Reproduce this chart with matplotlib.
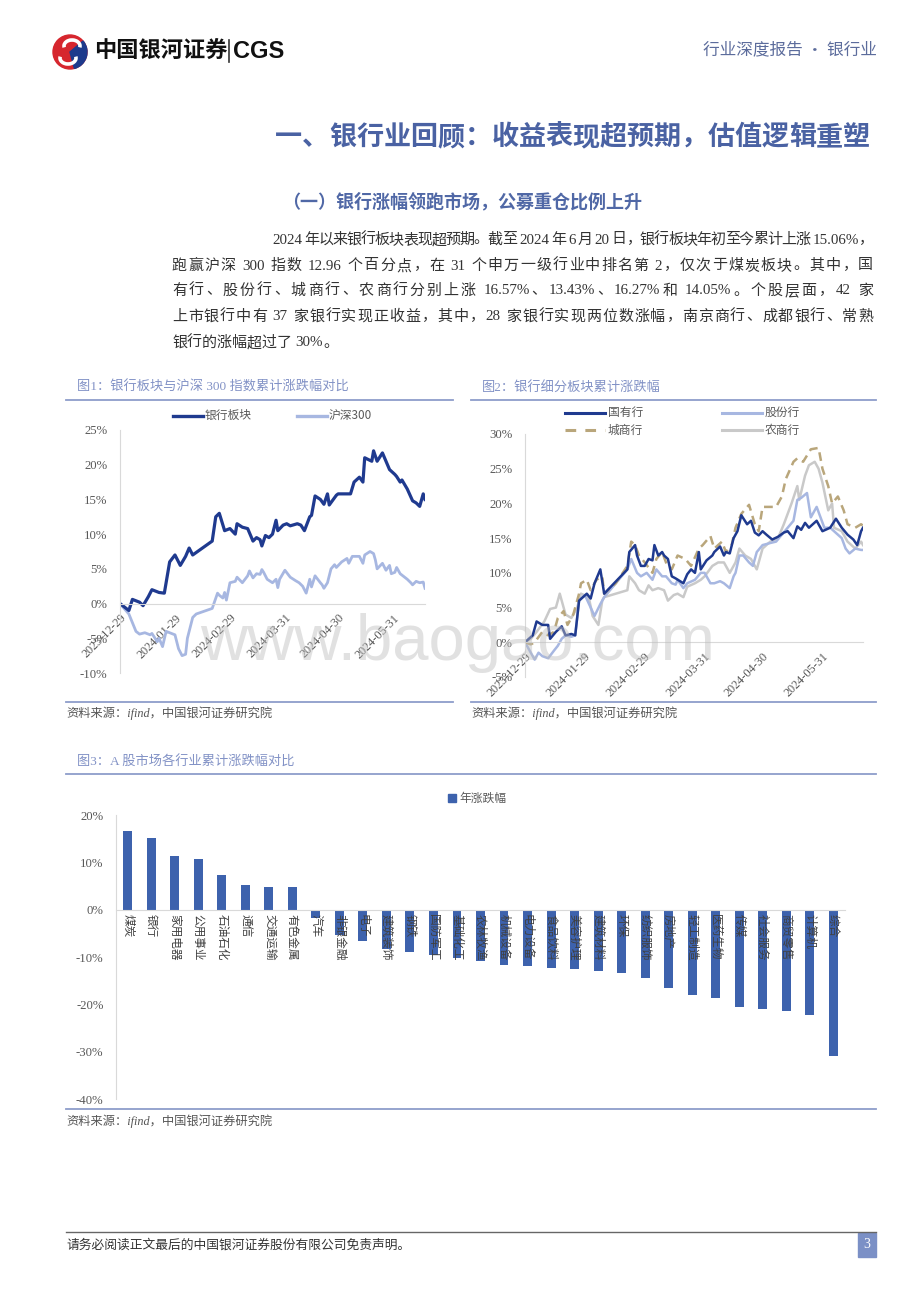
import re
import matplotlib
matplotlib.use('Agg')
import matplotlib.pyplot as plt
import pandas as pd
from matplotlib.lines import Line2D
from matplotlib.patches import Rectangle, Circle, Wedge, Arc

# ---------------- data ----------------
base_date = '2023-12-29'
tick_dates = ['2023-12-29', '2024-01-29', '2024-02-29', '2024-03-31', '2024-04-30', '2024-05-31']

# Fig1: days after 2023-12-29 and cumulative change (%)
bank_days = [0, 5, 7, 11, 13, 16, 18, 22, 25, 28, 31, 34, 37, 39, 41, 52, 54, 56, 59, 62, 65, 66, 69, 72,
             75, 77, 79, 80, 82, 84, 86, 88, 89, 92, 94, 96, 100, 102, 104, 107, 108, 110, 113, 115, 117,
             118, 122, 123, 130, 132, 135, 137, 138, 142, 143, 145, 148, 152, 155, 156, 158, 159, 162,
             165, 167, 169, 171, 172]
bank_vals = [0, -1.0, 0.6, 0.2, -0.3, 1.0, 2.0, 1.6, 1.5, 6.0, 7.0, 5.5, 6.8, 8.0, 7.0, 9.0, 12.5, 13.0,
             10.5, 10.8, 10.0, 11.5, 11.0, 10.8, 9.0, 9.5, 9.2, 8.3, 9.8, 9.5, 10.0, 12.0, 10.5, 11.3,
             11.5, 11.2, 11.5, 11.3, 10.5, 12.5, 12.7, 15.5, 15.0, 14.3, 15.8, 14.2, 15.6, 15.8, 15.8,
             17.5, 18.2, 17.5, 21.0, 20.5, 22.0, 20.5, 21.7, 19.3, 18.6, 18.3, 17.5, 17.8, 16.5, 14.8,
             14.5, 14.0, 15.8, 15.0]
hs300_days = [0, 5, 9, 11, 14, 17, 18, 21, 22, 24, 26, 31, 33, 35, 37, 38, 41, 43, 52, 55, 56, 58, 59,
              60, 62, 65, 66, 69, 72, 73, 75, 77, 79, 80, 81, 83, 86, 88, 89, 90, 93, 96, 99, 101, 103,
              105, 107, 108, 110, 113, 114, 115, 117, 119, 121, 122, 125, 128, 129, 131, 135, 137, 138,
              141, 143, 144, 145, 148, 150, 152, 153, 155, 156, 158, 162, 164, 165, 167, 169, 171, 172]
hs300_vals = [0, -1.5, -4.0, -4.4, -4.2, -4.5, -4.3, -5.5, -5.0, -6.2, -4.0, -4.5, -6.5, -7.5, -7.3,
              -5.0, -2.0, -1.5, -0.7, 1.5, 1.2, 0.8, 1.6, 0.5, 3.0, 3.2, 3.8, 3.0, 4.0, 4.7, 3.7, 4.3,
              4.2, 4.9, 4.5, 3.5, 3.0, 3.5, 2.3, 3.5, 4.8, 3.8, 3.3, 3.0, 2.5, 1.5, 3.5, 2.4, 4.0, 3.0,
              2.7, 2.2, 3.0, 5.0, 5.6, 5.2, 6.0, 6.5, 5.8, 6.8, 6.8, 5.8, 7.0, 7.5, 7.2, 6.3, 5.0, 5.8,
              4.8, 5.5, 4.3, 4.5, 5.2, 4.3, 3.5, 3.0, 2.7, 3.2, 3.0, 3.1, 2.2]

# Fig2
soe_days = [0, 4, 6, 9, 12, 13, 16, 19, 21, 24, 26, 28, 32, 34, 36, 39, 41, 53, 54, 57, 58, 60, 62, 64,
            66, 67, 69, 71, 72, 74, 76, 78, 82, 84, 86, 88, 90, 91, 94, 97, 98, 101, 103, 104, 106, 108,
            110, 112, 115, 117, 119, 121, 123, 125, 128, 131, 134, 136, 139, 141, 143, 145, 147, 151,
            154, 158, 161, 164, 167, 170, 172, 174, 175]
soe_vals = [0, 1.0, 3.0, 2.5, 2.5, 0.5, 1.5, 2.3, 1.0, 1.2, 1.0, 6.0, 7.0, 6.3, 8.5, 10.5, 7.0, 10.5,
            13.0, 14.0, 12.5, 11.0, 11.0, 12.0, 11.8, 14.0, 12.5, 13.0, 12.5, 12.0, 9.5, 9.2, 8.5, 9.8,
            10.5, 10.0, 13.0, 10.5, 11.8, 12.5, 13.0, 13.8, 12.5, 13.0, 12.8, 15.0, 16.0, 18.3, 17.0,
            17.5, 15.8, 15.4, 16.0, 15.5, 14.8, 15.2, 15.8, 16.0, 15.0, 16.7, 16.2, 17.2, 16.5, 17.5,
            16.0, 16.5, 17.8, 16.5, 15.5, 14.8, 14.0, 16.0, 16.5]
city_days = [0, 3, 5, 9, 12, 15, 17, 20, 22, 25, 28, 29, 32, 34, 37, 40, 41, 47, 53, 55, 57, 59, 62, 66,
             68, 71, 73, 76, 79, 83, 86, 90, 92, 96, 98, 102, 104, 107, 109, 112, 116, 119, 121, 123,
             126, 130, 133, 135, 139, 141, 144, 148, 152, 154, 157, 159, 162, 165, 167, 171, 174, 175]
city_vals = [0, -0.3, 0, 1.5, 1.0, 1.5, 3.5, 4.5, 2.5, 4.0, 7.0, 8.5, 9.0, 7.5, 9.0, 9.5, 7.0, 8.5, 11.0,
             14.5, 14.0, 12.5, 11.5, 10.0, 12.0, 13.0, 11.5, 10.5, 12.5, 12.0, 11.0, 13.5, 14.0, 15.3,
             13.5, 14.5, 13.0, 14.0, 16.5, 18.5, 19.8, 17.0, 16.0, 19.5, 19.5, 19.5, 21.0, 23.5, 26.0,
             26.5, 26.0, 27.8, 28.0, 25.0, 22.5, 20.0, 21.0, 19.0, 17.0, 16.5, 17.0, 16.8]
jsb_days = [0, 3, 5, 7, 9, 12, 15, 17, 19, 21, 24, 26, 28, 31, 34, 36, 39, 41, 53, 55, 58, 60, 63, 66,
            68, 71, 73, 76, 78, 79, 82, 84, 88, 91, 93, 96, 98, 101, 103, 106, 108, 109, 111, 113, 116,
            118, 120, 123, 127, 130, 133, 136, 139, 141, 143, 146, 148, 151, 153, 155, 158, 160, 164,
            166, 168, 171, 174, 175]
jsb_vals = [0, -1.5, -2.5, -1.5, -2.0, -2.3, -1.2, -0.5, 0.5, 1.0, 0.8, 1.0, 6.0, 6.8, 5.0, 3.8, 5.5,
            6.5, 10.5, 12.0, 10.0, 9.5, 10.0, 9.0, 10.5, 9.5, 9.5, 8.5, 8.3, 9.0, 7.8, 8.5, 9.0, 10.0,
            10.0, 8.5, 8.5, 8.8, 8.5, 7.8, 9.5, 10.0, 12.5, 12.5, 11.5, 11.0, 13.0, 14.0, 14.3, 14.5,
            15.5, 16.5, 17.5, 20.5, 20.8, 21.5, 18.0, 19.5, 18.0, 16.5, 16.5, 16.0, 15.0, 13.5, 12.8,
            13.5, 13.3, 13.3]
rural_days = [0, 3, 6, 10, 13, 16, 18, 21, 24, 27, 29, 33, 35, 38, 40, 41, 53, 54, 57, 59, 62, 64, 66,
              69, 72, 74, 77, 79, 82, 84, 88, 91, 93, 97, 100, 103, 106, 109, 111, 114, 117, 120, 123,
              127, 131, 134, 138, 141, 142, 145, 147, 150, 152, 154, 157, 159, 160, 164, 167, 171, 174,
              175]
rural_vals = [0, 0.5, 1.5, 3.0, 4.8, 5.0, 7.0, 4.0, 3.5, 5.0, 7.0, 6.5, 3.8, 2.5, 6.0, 6.5, 7.5, 9.5,
              8.5, 7.5, 7.0, 8.2, 7.5, 7.8, 7.5, 6.0, 6.8, 7.0, 6.5, 8.0, 8.5, 9.0, 9.5, 11.0, 11.5,
              11.5, 10.0, 11.5, 13.5, 12.5, 12.0, 10.5, 13.5, 14.5, 15.0, 17.0, 20.0, 22.5, 20.5, 24.0,
              25.5, 26.0, 25.0, 23.0, 19.0, 20.0, 16.5, 16.0, 14.5, 13.5, 14.5, 14.0]

# Fig3
ind_names = ['煤炭', '银行', '家用电器', '公用事业', '石油石化', '通信', '交通运输', '有色金属', '汽车',
             '非银金融', '电子', '建筑装饰', '钢铁', '国防军工', '基础化工', '农林牧渔', '机械设备',
             '电力设备', '食品饮料', '美容护理', '建筑材料', '环保', '纺织服饰', '房地产', '轻工制造',
             '医药生物', '传媒', '社会服务', '商贸零售', '计算机', '综合']
ind_vals = [16.6, 15.1, 11.4, 10.8, 7.4, 5.2, 4.8, 4.7, -1.7, -5.3, -6.7, -8.4, -8.9, -9.6, -10.3,
            -10.9, -11.6, -11.9, -12.4, -12.6, -12.9, -13.4, -14.5, -16.6, -18.0, -18.6, -20.6, -21.0,
            -21.4, -22.2, -30.9]

para_lines = [
    '2024 年以来银行板块表现超预期。截至 2024 年 6 月 20 日，银行板块年初至今累计上涨 15.06%，',
    '跑赢沪深 300 指数 12.96 个百分点，在 31 个申万一级行业中排名第 2，仅次于煤炭板块。其中，国',
    '有行、股份行、城商行、农商行分别上涨 16.57%、13.43%、16.27%和 14.05%。个股层面，42 家',
    '上市银行中有 37 家银行实现正收益，其中，28 家银行实现两位数涨幅，南京商行、成都银行、常熟',
    '银行的涨幅超过了 30%。',
]

# ---------------- style ----------------
W, H = 920, 1302
CJK = ['Noto Sans CJK SC', 'DejaVu Sans']
SERIF = ['Liberation Serif', 'Noto Sans CJK SC', 'DejaVu Sans']
plt.rcParams['font.family'] = CJK

NAVY = '#1f3a8f'
LIGHTBLUE = '#a7b7e1'
TAN = '#b9a67b'
GRAY = '#c9c9c9'
BAR = '#3d62ad'
CAP = '#8292c6'
RULE = '#8e9dca'
AXC = '#d9d9d9'
TXT = '#595959'

fig = plt.figure(figsize=(9.2, 13.02), dpi=100)
renderer = fig.canvas.get_renderer()


def fx(x):
    return x / W


def fy(y):
    return 1 - y / H


def ftext(x, y, s, **kw):
    return fig.text(fx(x), fy(y), s, **kw)


def fline(xs, ys, **kw):
    fig.add_artist(Line2D([fx(v) for v in xs], [fy(v) for v in ys], transform=fig.transFigure, **kw))


def justify(s, x0, x1, y, fs, color, fam, full=True, **kw):
    toks = re.findall(r'[A-Za-z0-9.%]+| |.', s)
    arts, widths = [], []
    for t in toks:
        if t == ' ':
            arts.append(None)
            widths.append(fs * 100 / 72 * 0.25)
        else:
            a = fig.text(0, fy(y), t, fontsize=fs, color=color, family=fam, va='center', ha='left', **kw)
            widths.append(a.get_window_extent(renderer).width)
            arts.append(a)
    gap = (x1 - x0 - sum(widths)) / (len(toks) - 1) if full and len(toks) > 1 else 0
    x = x0
    for a, w in zip(arts, widths):
        if a is not None:
            a.set_x(fx(x))
        x += w + gap


# ---------------- header ----------------
logo = fig.add_axes([fx(51), fy(71), 38 / W, 38 / H])
logo.set_xlim(0, 38)
logo.set_ylim(0, 38)
logo.axis('off')
logo.add_patch(Circle((19, 19), 17, color='#d6262e'))
logo.add_patch(Wedge((19, 19), 17, -75, 40, color='#1d3a8c'))
logo.add_patch(Arc((21, 25), 16, 12, theta1=-10, theta2=190, color='white', lw=2.6))
logo.add_patch(Arc((17, 13), 16, 12, theta1=170, theta2=370, color='white', lw=2.6))

ftext(94, 51, '中国银河证券', fontsize=16, fontweight='bold', color='#111111', va='center', ha='left')
fline([229, 229], [40, 62], color='#333333', lw=1.2)
ftext(233, 51, 'CGS', fontsize=17, fontweight='bold', color='#111111', va='center', ha='left',
      family=['Liberation Sans', 'DejaVu Sans'])
ftext(877, 50, '行业深度报告 · 银行业', fontsize=12, color='#5c6c9c', va='center', ha='right')

justify('一、银行业回顾：收益表现超预期，估值逻辑重塑', 275, 870, 137, 19.5, '#4a62a3', CJK,
        fontweight='bold')
ftext(282, 202, '（一）银行涨幅领跑市场，公募重仓比例上升', fontsize=13, fontweight='bold',
      color='#5068a6', va='center', ha='left')

para_y = [240, 266, 291, 317, 343]
for i, (line, yy) in enumerate(zip(para_lines, para_y)):
    x0 = 272 if i == 0 else 172
    justify(line, x0, 873, yy, 10.8, '#333333', SERIF, full=(i < len(para_lines) - 1))

# ---------------- captions / rules ----------------
ftext(77, 387, '图1：银行板块与沪深 300 指数累计涨跌幅对比', fontsize=9.5, color=CAP, va='center', ha='left',
      family=SERIF)
ftext(482, 387, '图2：银行细分板块累计涨跌幅', fontsize=9.5, color=CAP, va='center', ha='left', family=SERIF)
fline([66, 453], [399.5, 399.5], color=RULE, lw=1.3)
fline([471, 876], [399.5, 399.5], color=RULE, lw=1.3)
fline([66, 453], [702, 702], color=RULE, lw=1.3)
fline([471, 876], [702, 702], color=RULE, lw=1.3)
ftext(66, 713.5, '资料来源：ifind，中国银河证券研究院', fontsize=8.8, color='#555555', va='center', ha='left',
      style='italic', family=SERIF)
ftext(471, 713.5, '资料来源：ifind，中国银河证券研究院', fontsize=8.8, color='#555555', va='center', ha='left',
      style='italic', family=SERIF)

ftext(77, 762, '图3：A 股市场各行业累计涨跌幅对比', fontsize=9.5, color=CAP, va='center', ha='left', family=SERIF)
fline([66, 876], [774, 774], color=RULE, lw=1.3)
fline([66, 876], [1109, 1109], color=RULE, lw=1.3)
ftext(66, 1121.5, '资料来源：ifind，中国银河证券研究院', fontsize=8.8, color='#555555', va='center', ha='left',
      style='italic', family=SERIF)

# footer
fline([66, 876], [1232, 1232], color='#666666', lw=1.0)
ftext(66, 1245, '请务必阅读正文最后的中国银河证券股份有限公司免责声明。', fontsize=9.2, color='#333333',
      va='center', ha='left', family=SERIF)
fig.add_artist(Rectangle((fx(858), fy(1257)), 18 / W, 24 / H, transform=fig.transFigure,
                         color='#7b90c6'))
ftext(867, 1245, '3', fontsize=10, color='white', va='center', ha='center', family=SERIF)

# ---------------- line charts ----------------
base = pd.Timestamp(base_date)
ticks = pd.to_datetime(tick_dates)


def to_dates(days):
    return base + pd.to_timedelta(days, unit='D')


def style_line_axes(ax, ymin, ymax, step, xmax_days):
    for s in ['top', 'right']:
        ax.spines[s].set_visible(False)
    ax.spines['left'].set_color(AXC)
    ax.spines['bottom'].set_color(AXC)
    ax.spines['bottom'].set_position(('data', 0))
    ax.set_xlim(base, base + pd.Timedelta(days=xmax_days))
    ax.set_ylim(ymin, ymax)
    ax.set_yticks(range(ymin, ymax + 1, step))
    ax.set_yticklabels([f'{v}%' for v in range(ymin, ymax + 1, step)], family=SERIF, fontsize=9.2,
                       color=TXT)
    ax.set_xticks(ticks)
    ax.set_xticklabels(tick_dates, family=SERIF, fontsize=8.8, color=TXT, rotation=45, ha='right',
                       va='top', rotation_mode='anchor')
    ax.tick_params(axis='both', length=0)
    ax.tick_params(axis='y', pad=9)
    ax.tick_params(axis='x', pad=6)
    ax.patch.set_alpha(0)


ax1 = fig.add_axes([fx(120), fy(673), (425 - 120) / W, (673 - 430) / H])
ax1.plot(to_dates(hs300_days), hs300_vals, color=LIGHTBLUE, lw=2.0, solid_joinstyle='round')
ax1.plot(to_dates(bank_days), bank_vals, color=NAVY, lw=2.3, solid_joinstyle='round')
style_line_axes(ax1, -10, 25, 5, 172)

fline([173, 203], [415.5, 415.5], color=NAVY, lw=2.4)
ftext(205, 415.5, '银行板块', fontsize=8.5, color=TXT, va='center', ha='left')
fline([297, 327], [415.5, 415.5], color=LIGHTBLUE, lw=2.4)
ftext(329, 415.5, '沪深300', fontsize=8.5, color=TXT, va='center', ha='left')

ax2 = fig.add_axes([fx(525), fy(677), (863 - 525) / W, (677 - 434) / H])
ax2.plot(to_dates(rural_days), rural_vals, color=GRAY, lw=1.8, solid_joinstyle='round')
ax2.plot(to_dates(jsb_days), jsb_vals, color=LIGHTBLUE, lw=1.8, solid_joinstyle='round')
ax2.plot(to_dates(city_days), city_vals, color=TAN, lw=1.8, dashes=(3.5, 2.2))
ax2.plot(to_dates(soe_days), soe_vals, color=NAVY, lw=1.8, solid_joinstyle='round')
style_line_axes(ax2, -5, 30, 5, 175)

fline([565, 605], [412.5, 412.5], color=NAVY, lw=2.2)
ftext(608, 412.5, '国有行', fontsize=8.5, color=TXT, va='center', ha='left')
fline([722, 762], [412.5, 412.5], color=LIGHTBLUE, lw=2.2)
ftext(765, 412.5, '股份行', fontsize=8.5, color=TXT, va='center', ha='left')
fig.add_artist(Line2D([fx(565), fx(605)], [fy(430), fy(430)], transform=fig.transFigure, color=TAN, lw=2.2,
                      dashes=(3.5, 3.0)))
ftext(608, 430, '城商行', fontsize=8.5, color=TXT, va='center', ha='left')
fline([722, 762], [430, 430], color=GRAY, lw=2.2)
ftext(765, 430, '农商行', fontsize=8.5, color=TXT, va='center', ha='left')

# ---------------- bar chart ----------------
ax3 = fig.add_axes([fx(116), fy(1099), (845 - 116) / W, (1099 - 815) / H])
for s in ['top', 'right']:
    ax3.spines[s].set_visible(False)
ax3.spines['left'].set_color(AXC)
ax3.spines['bottom'].set_color(AXC)
ax3.spines['bottom'].set_position(('data', 0))
ax3.spines['bottom'].set_zorder(3)
xs = list(range(len(ind_names)))
ax3.bar(xs, ind_vals, width=0.38, color=BAR, zorder=2)
ax3.set_xlim(-0.5, len(ind_names) - 0.5)
ax3.set_ylim(-40, 20)
yt = list(range(-40, 21, 10))
ax3.set_yticks(yt)
ax3.set_yticklabels([f'{v}%' for v in yt], family=SERIF, fontsize=9.2, color=TXT)
ax3.set_xticks([])
ax3.tick_params(axis='both', length=0)
ax3.tick_params(axis='y', pad=9)
ax3.patch.set_alpha(0)
for x, name in zip(xs, ind_names):
    ax3.text(x, -0.9, name, rotation=-90, ha='center', va='top', fontsize=8.4, color='#404040', zorder=4)

fig.add_artist(Rectangle((fx(448), fy(802)), 8 / W, 8 / H, transform=fig.transFigure, color=BAR))
ftext(459, 798, '年涨跌幅', fontsize=8.5, color=TXT, va='center', ha='left')

# watermark
ftext(458, 660, 'www.baogao.com', fontsize=47, color='#bdbdbd', alpha=0.45, va='baseline', ha='center',
      family=['Liberation Sans', 'DejaVu Sans'], zorder=10)

fig.savefig('out.png', dpi=100)
